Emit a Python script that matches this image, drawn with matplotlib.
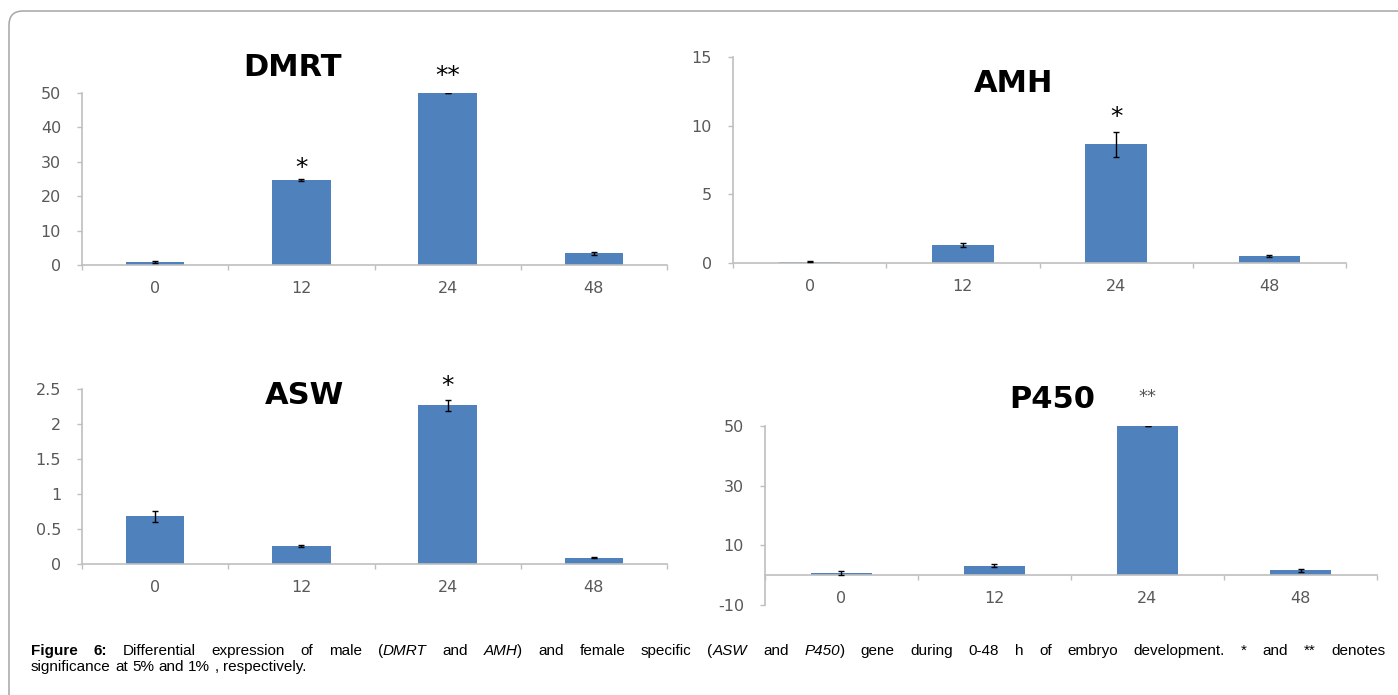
import re
import numpy as np
import matplotlib
matplotlib.use("Agg")
import matplotlib.pyplot as plt
from matplotlib.patches import FancyBboxPatch
from matplotlib.transforms import IdentityTransform
from matplotlib.ticker import FixedLocator

#### data
hours = ["0", "12", "24", "48"]

dmrt = [1.0, 24.6, 50.0, 3.4]
dmrt_err = [0.3, 0.3, 0.0, 0.4]
dmrt_sig = ["", "*", "**", ""]

amh = [0.1, 1.3, 8.65, 0.5]
amh_err = [0.03, 0.15, 0.9, 0.05]
amh_sig = ["", "", "*", ""]

asw = [0.68, 0.26, 2.27, 0.09]
asw_err = [0.08, 0.01, 0.08, 0.01]
asw_sig = ["", "", "*", ""]

p450 = [0.8, 3.2, 50.0, 1.6]
p450_err = [0.6, 0.5, 0.0, 0.5]
p450_sig = ["", "", "**", ""]

caption1 = ("^Figure 6:^ Differential expression of male (_DMRT_ and _AMH_) and female "
            "specific (_ASW_ and _P450_) gene during 0-48 h of embryo development. "
            "* and ** denotes")
caption2 = "significance at 5% and 1% , respectively."

W, H = 1398, 695
BLUE = "#4f81bd"
GRAY = "#bfbfbf"
TICKC = "#595959"

fig = plt.figure(figsize=(W / 100, H / 100), dpi=100)

# panel layout in pixels: box (left, top, right, bottom), title centre, star offset
panels = [
    dict(name="DMRT", v=dmrt, e=dmrt_err, sig=dmrt_sig, box=(82, 93, 667, 265),
         ylim=(0, 50), yt=[0, 10, 20, 30, 40, 50], title=(292, 68), off=[0, 11, 17, 0]),
    dict(name="AMH", v=amh, e=amh_err, sig=amh_sig, box=(733, 57, 1346, 263),
         ylim=(0, 15), yt=[0, 5, 10, 15], title=(1014, 83), off=[0, 0, 15, 0]),
    dict(name="ASW", v=asw, e=asw_err, sig=asw_sig, box=(82, 389, 667, 564),
         ylim=(0, 2.5), yt=[0, 0.5, 1, 1.5, 2, 2.5], title=(304, 395), off=[0, 0, 14, 0]),
    dict(name="P450", v=p450, e=p450_err, sig=p450_sig, box=(765, 426, 1377, 605),
         ylim=(-10, 50), yt=[-10, 10, 30, 50], title=(1052, 400), off=[0, 0, 29, 0]),
]

x = np.arange(len(hours))
for p in panels:
    l, t, r, b = p["box"]
    ax = fig.add_axes([l / W, 1 - b / H, (r - l) / W, (b - t) / H])
    ax.bar(x, p["v"], width=0.4, color=BLUE, zorder=2)
    ax.errorbar(x, p["v"], yerr=p["e"], fmt="none", ecolor="black",
                elinewidth=1, capsize=2.5, capthick=1, zorder=3)
    ax.set_xlim(-0.5, 3.5)
    ax.set_ylim(*p["ylim"])
    ax.set_yticks(p["yt"])
    ax.set_yticklabels(["%g" % v for v in p["yt"]])
    ax.set_xticks(x)
    ax.set_xticklabels(hours)
    ax.xaxis.set_minor_locator(FixedLocator(np.arange(-0.5, 4, 1)))
    for s in ["top", "right"]:
        ax.spines[s].set_visible(False)
    for s in ["left", "bottom"]:
        ax.spines[s].set_color(GRAY)
        ax.spines[s].set_linewidth(1.2)
    if p["ylim"][0] < 0:
        ax.spines["bottom"].set_position(("data", 0))
    ax.tick_params(axis="x", which="major", length=0, pad=11.5,
                   labelsize=11.5, labelcolor=TICKC)
    ax.tick_params(axis="x", which="minor", length=3.6, color=GRAY, width=1)
    ax.tick_params(axis="y", length=3.6, color=GRAY, width=1, pad=11.5,
                   labelsize=11.5, labelcolor=TICKC)
    ax.patch.set_alpha(0)
    # significance marks
    for i, s in enumerate(p["sig"]):
        if not s:
            continue
        top = p["v"][i] + p["e"][i]
        light = p["name"] == "P450"
        ax.annotate(s, (i, top), xytext=(0, p["off"][i] * 0.72), textcoords="offset points",
                    ha="center", va="center", fontsize=13 if light else 18,
                    color="#555555" if light else "black", annotation_clip=False)
    tx, ty = p["title"]
    fig.text(tx / W, 1 - ty / H, p["name"], ha="center", va="center",
             fontsize=22, fontweight="bold", color="black")

# rounded frame (only left and top edges fall inside the picture)
frame = FancyBboxPatch((9, -40), 1450, H - 11 + 40,
                       boxstyle="round,pad=0,rounding_size=14",
                       transform=IdentityTransform(), fill=False,
                       edgecolor="#a6a6a6", linewidth=1.1)
fig.add_artist(frame)

# caption, placed word by word so the first line can be justified
renderer = fig.canvas.get_renderer()
cap_font = ["Liberation Sans", "DejaVu Sans"]
cap_size = 11


def parse(line):
    bold = ital = False
    words = []
    for w in line.split(" "):
        pieces = []
        for part in re.split(r"([_^])", w):
            if part == "_":
                ital = not ital
            elif part == "^":
                bold = not bold
            elif part:
                pieces.append((part, bold, ital))
        words.append(pieces)
    return words


def make(s, bold, ital):
    return fig.text(0, 0, s, transform=IdentityTransform(), family=cap_font,
                    fontsize=cap_size, fontweight="bold" if bold else "normal",
                    fontstyle="italic" if ital else "normal", va="baseline", ha="left")


def draw_line(line, x0, y, x1=None):
    words = parse(line)
    arts = []
    widths = []
    for pieces in words:
        row = []
        wsum = 0
        for s, b, it in pieces:
            t = make(s, b, it)
            w = t.get_window_extent(renderer).width
            row.append((t, w))
            wsum += w
        arts.append(row)
        widths.append(wsum)
    a = make("a a", False, False)
    aa = make("aa", False, False)
    space = a.get_window_extent(renderer).width - aa.get_window_extent(renderer).width
    a.remove()
    aa.remove()
    if x1 is not None and len(words) > 1:
        space = (x1 - x0 - sum(widths)) / (len(words) - 1)
    xc = x0
    for row, wsum in zip(arts, widths):
        xp = xc
        for t, w in row:
            t.set_position((xp, y))
            xp += w
        xc += wsum + space


draw_line(caption1, 31, H - 655, 1385)
draw_line(caption2, 31, H - 671)

fig.savefig("out.png", dpi=100)
